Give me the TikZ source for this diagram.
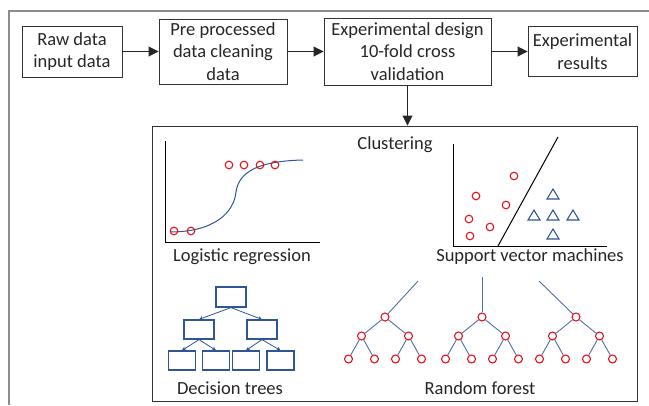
\documentclass[tikz,border=0pt]{standalone}
\usepackage{fontspec}
\setmainfont{Carlito}
\usepackage{xcolor}
\usetikzlibrary{positioning, arrows.meta}

\definecolor{dotred}{HTML}{E8141C}
\definecolor{lineblue}{HTML}{2F5597}
\definecolor{framegray}{HTML}{8C8C8C}

\begin{document}
\begin{tikzpicture}[x=1pt, y=-1pt, font=\fontsize{18.5}{22.5}\selectfont, text=black!85,
	stage/.style={draw=black!80, line width=0.9pt, align=center, inner sep=0pt},
	flow/.style={-{Triangle[length=10pt, width=10pt]}, line width=0.9pt, black!85},
	dot/.style={circle, draw=dotred, line width=1.1pt, minimum size=8pt, inner sep=0pt},
	leaf/.style={draw=lineblue, line width=1.2pt, minimum width=27pt, minimum height=19pt, inner sep=0pt},
	branch/.style={lineblue, line width=0.8pt, -{Stealth[length=4pt, width=4pt]}},
	twig/.style={lineblue!85, line width=0.9pt}]

	\useasboundingbox (0,0) rectangle (649,405);
	\draw[framegray, line width=1.5pt] (649,11) -- (9,11) -- (9,405);

	\node[stage, minimum width=100pt, minimum height=51pt] (raw) at (72,51.5) {Raw data\\input data};
	\node[stage, minimum width=128pt, minimum height=65pt] (pre) at (223,51.5) {Pre processed\\data cleaning\\data};
	\node[stage, minimum width=167pt, minimum height=67pt] (design) at (407.5,51.5) {Experimental design\\10-fold cross\\validation};
	\node[stage, minimum width=109pt, minimum height=50pt] (results) at (582.5,51.5) {Experimental\\results};
	\node[stage, minimum width=485pt, minimum height=275pt] (models) at (394.5,263.5) {};

	\draw[flow] (raw) -- (pre);
	\draw[flow] (pre) -- (design);
	\draw[flow] (design) -- (results);
	\draw[flow] (design) -- (design |- models.north);

	\node (clustering) at (395,145) {Clustering};
	\node (logistic) at (242,257) {Logistic regression};
	\node (svm) at (530,257) {Support vector machines};
	\node (dtree) at (230,388) {Decision trees};
	\node (forest) at (480,388) {Random forest};

	% logistic regression
	\draw[line width=1pt] (165,141) -- (165,242) -- (320,242);
	\draw[lineblue, line width=1pt] (170,232) .. controls (215,232) and (234,212) .. (236,192)
		.. controls (239,170) and (262,161) .. (303,160);
	\foreach \x/\y in {174/231, 191/231, 229/165, 244/165, 260/165, 275/165}
		\draw[dotred, line width=1.1pt] (\x,\y) circle (3.8pt);

	% support vector machines
	\draw[line width=1pt] (453,144) -- (453,246) -- (607,246);
	\draw[line width=1pt] (498,246) -- (558,137);
	\foreach \x/\y in {514/176, 476/196, 506/205, 469/219, 490/227, 470/236}
		\draw[dotred, line width=1.1pt] (\x,\y) circle (3.8pt);
	\foreach \x/\y in {553/194, 534/215, 553/215, 573/215, 553/234}
		\draw[lineblue, line width=1.1pt] (\x-6,\y+5) -- (\x+6,\y+5) -- (\x,\y-5) -- cycle;

	% decision trees
	\node[leaf, minimum width=30pt, minimum height=20pt] (d0) at (231,297) {};
	\node[leaf, minimum width=30pt] (d1) at (199,329.5) {};
	\node[leaf, minimum width=30pt] (d2) at (262,329.5) {};
	\foreach \n/\x in {3/182, 4/216, 5/246, 6/280.5}
		\node[leaf] (d\n) at (\x,360.5) {};
	\foreach \a/\b in {0/1, 0/2, 1/3, 1/4, 2/5, 2/6}
		\draw[branch] (d\a.south) -- (d\b.north);

	% random forest
	\foreach \t/\r/\s/\h in {1/385/418/281, 2/482/482/277, 3/576/539/281} {
		\coordinate (top\t) at (\s,\h);
		\node[dot] (f\t) at (\r,317) {};
		\node[dot] (f\t-a) at (\r-23.5,336) {};
		\node[dot] (f\t-b) at (\r+23.5,336) {};
		\node[dot] (f\t-aa) at (\r-36.5,359) {};
		\node[dot] (f\t-ab) at (\r-10.5,359) {};
		\node[dot] (f\t-ba) at (\r+10.5,359) {};
		\node[dot] (f\t-bb) at (\r+36.5,359) {};
		\draw[twig] (top\t) -- (f\t);
		\draw[twig] (f\t) -- (f\t-a);
		\draw[twig] (f\t) -- (f\t-b);
		\draw[twig] (f\t-a) -- (f\t-aa);
		\draw[twig] (f\t-a) -- (f\t-ab);
		\draw[twig] (f\t-b) -- (f\t-ba);
		\draw[twig] (f\t-b) -- (f\t-bb);
	}
\end{tikzpicture}
\end{document}
